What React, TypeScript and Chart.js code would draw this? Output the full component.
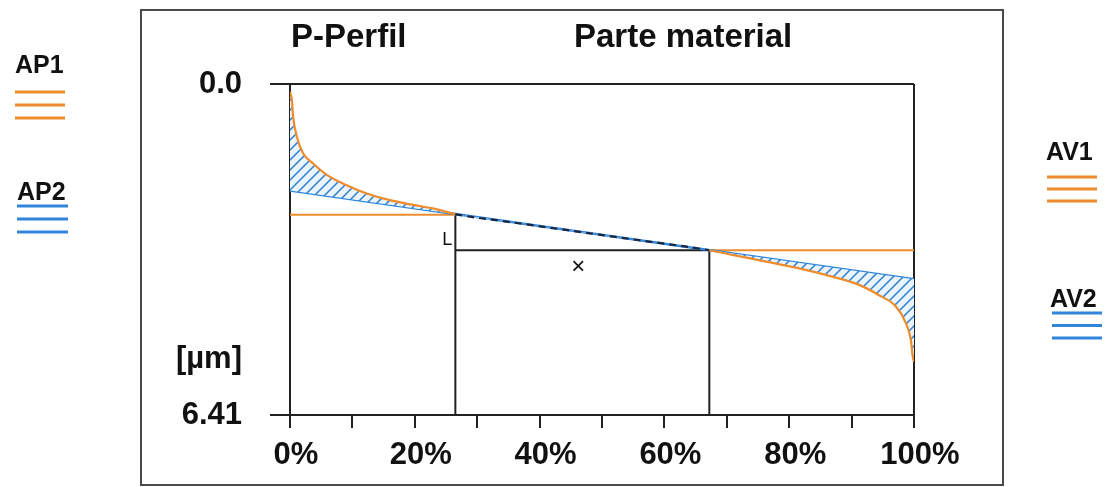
import React, { useEffect, useRef } from 'react';
import { Chart, registerables } from 'chart.js';

Chart.register(...registerables);

// ---- data ----
const materialPct = [0, 0.3, 0.5, 1.1, 2.1, 3.7, 5.9, 9.1, 12.3, 16, 19.7, 22.9, 26.5, 35, 45, 55, 67.2, 70.9, 76.3, 81.6, 86.9, 91.2, 94.4, 97.1, 98.7, 99.5, 99.8, 100];
const profileDepth = [0.15, 0.31, 0.63, 1.02, 1.34, 1.54, 1.76, 1.96, 2.12, 2.25, 2.34, 2.41, 2.52, 2.67, 2.84, 3.01, 3.22, 3.31, 3.44, 3.57, 3.73, 3.89, 4.09, 4.31, 4.63, 4.96, 5.28, 5.38];
const lineX = [0, 100];
const lineY = [2.064, 3.78];
const mr1 = 26.5;
const mr2 = 67.2;
const level1 = 2.53;
const level2 = 3.22;
const depthMax = 6.41;
const unitTick = 5.34;
const yTickLabels = ['0.0', '[µm]', '6.41'];
const xTickLabels = ['0%', '20%', '40%', '60%', '80%', '100%'];
const titles = ['P-Perfil', 'Parte material'];
const legendLeft = ['AP1', 'AP2'];
const legendRight = ['AV1', 'AV2'];
const markL = { x: 25.2, y: 3.02, text: 'L' };
const markX = { x: 46.2, y: 3.56, text: '×' };

const ORANGE = '#ef8c2c';
const BLUE = '#2f86dc';
const DARK = '#222222';
const FONT = "'Liberation Sans', Arial, sans-serif";
const TRANSPARENT = 'rgba(0,0,0,0)';

function makeHatch(): CanvasPattern | string {
  const s = 10;
  const c = document.createElement('canvas');
  c.width = s;
  c.height = s;
  const g = c.getContext('2d');
  if (!g) return '#d8e9f8';
  g.fillStyle = '#eaf4fd';
  g.fillRect(0, 0, s, s);
  g.strokeStyle = '#2f7fd0';
  g.lineWidth = 1.5;
  g.beginPath();
  g.moveTo(0, s);
  g.lineTo(s, 0);
  g.moveTo(-2, 2);
  g.lineTo(2, -2);
  g.moveTo(s - 2, s + 2);
  g.lineTo(s + 2, s - 2);
  g.stroke();
  return g.createPattern(c, 'repeat') || '#d8e9f8';
}

const overlayPlugin = {
  id: 'overlay',
  beforeDraw(chart: any) {
    const ctx = chart.ctx;
    ctx.save();
    ctx.fillStyle = '#ffffff';
    ctx.fillRect(0, 0, chart.width, chart.height);
    ctx.restore();
  },
  afterDraw(chart: any) {
    const ctx = chart.ctx;
    const xs = chart.scales.x;
    const ys = chart.scales.y;
    ctx.save();
    // outer frame
    ctx.strokeStyle = '#4a4a4a';
    ctx.lineWidth = 2;
    ctx.strokeRect(141, 10, 862, 475);

    // titles
    ctx.fillStyle = '#111';
    ctx.font = `bold 33px ${FONT}`;
    ctx.textAlign = 'left';
    ctx.textBaseline = 'alphabetic';
    ctx.fillText(titles[0], 291, 47);
    ctx.fillText(titles[1], 574, 47);

    // legends
    const drawLegend = (text: string, tx: number, ty: number, color: string, lx: number, ly: number, w: number, gap: number) => {
      ctx.fillStyle = '#111';
      ctx.font = `bold 25px ${FONT}`;
      ctx.textAlign = 'left';
      ctx.textBaseline = 'alphabetic';
      ctx.fillText(text, tx, ty);
      ctx.strokeStyle = color;
      ctx.lineWidth = 3;
      for (let i = 0; i < 3; i++) {
        ctx.beginPath();
        ctx.moveTo(lx, ly + i * gap);
        ctx.lineTo(lx + w, ly + i * gap);
        ctx.stroke();
      }
    };
    drawLegend(legendLeft[0], 15, 73, ORANGE, 15, 92, 50, 13);
    drawLegend(legendLeft[1], 17, 200, BLUE, 17, 206, 51, 13);
    drawLegend(legendRight[0], 1046, 160, ORANGE, 1047, 177, 50, 12);
    drawLegend(legendRight[1], 1050, 307, BLUE, 1052, 313, 50, 12.5);

    // annotations
    ctx.fillStyle = '#111';
    ctx.font = `18px ${FONT}`;
    ctx.textAlign = 'center';
    ctx.textBaseline = 'middle';
    ctx.fillText(markL.text, xs.getPixelForValue(markL.x), ys.getPixelForValue(markL.y));
    ctx.font = `24px ${FONT}`;
    ctx.fillText(markX.text, xs.getPixelForValue(markX.x), ys.getPixelForValue(markX.y));
    ctx.restore();
  },
};

export default function App() {
  const ref = useRef<HTMLCanvasElement | null>(null);

  useEffect(() => {
    document.body.style.margin = '0';
    const canvas = ref.current;
    if (!canvas) return;
    const hatch = makeHatch();
    const tickFont = { family: FONT, size: 31, weight: 'bold' as const };
    const inMiddle = (c: any) => c.p0.parsed.x >= mr1 - 0.01 && c.p1.parsed.x <= mr2 + 0.01;

    const chart = new Chart(canvas, {
      type: 'line',
      data: {
        datasets: [
          {
            label: 'Abbott',
            data: materialPct.map((x, i) => ({ x, y: profileDepth[i] })),
            borderColor: ORANGE,
            borderWidth: 2.2,
            pointRadius: 0,
            cubicInterpolationMode: 'monotone',
            fill: { target: 1, above: hatch as any, below: hatch as any },
            segment: {
              borderColor: (c: any) => (inMiddle(c) ? '#1b2740' : undefined),
              borderDash: (c: any) => (inMiddle(c) ? [7, 5] : undefined),
            },
          } as any,
          {
            label: 'Line',
            data: lineX.map((x, i) => ({ x, y: lineY[i] })),
            borderColor: BLUE,
            borderWidth: 2.5,
            pointRadius: 0,
            fill: false,
          },
          {
            label: 'Level1',
            data: [{ x: 0, y: level1 }, { x: mr1, y: level1 }],
            borderColor: ORANGE,
            borderWidth: 2,
            pointRadius: 0,
            fill: false,
          },
          {
            label: 'Level2',
            data: [{ x: mr2, y: level2 }, { x: 100, y: level2 }],
            borderColor: ORANGE,
            borderWidth: 2,
            pointRadius: 0,
            fill: false,
          },
          {
            label: 'Mr1',
            data: [{ x: mr1, y: level1 }, { x: mr1, y: depthMax }],
            borderColor: DARK,
            borderWidth: 2,
            pointRadius: 0,
            fill: false,
          },
          {
            label: 'Mr2',
            data: [{ x: mr1, y: level2 }, { x: mr2, y: level2 }, { x: mr2, y: depthMax }],
            borderColor: DARK,
            borderWidth: 2,
            pointRadius: 0,
            fill: false,
          },
        ],
      },
      options: {
        animation: false,
        responsive: false,
        maintainAspectRatio: false,
        devicePixelRatio: 1,
        layout: { padding: { left: 140, right: 192, top: 84, bottom: 2 } },
        plugins: { legend: { display: false }, tooltip: { enabled: false }, title: { display: false } },
        scales: {
          x: {
            type: 'linear',
            min: 0,
            max: 100,
            afterFit: (s: any) => {
              s.height = 70;
            },
            ticks: {
              stepSize: 10,
              autoSkip: false,
              maxRotation: 0,
              padding: 9,
              labelOffset: 6,
              color: '#111',
              font: tickFont,
              callback: (v: any) => (Number(v) % 20 === 0 ? xTickLabels[Number(v) / 20] : ''),
            },
            grid: {
              color: (c: any) => (c.tick && c.tick.value === 100 ? DARK : TRANSPARENT),
              tickColor: DARK,
              lineWidth: 2,
              tickLength: 13,
              drawTicks: true,
            },
            border: { display: true, color: DARK, width: 2 },
          },
          y: {
            type: 'linear',
            reverse: true,
            min: 0,
            max: depthMax,
            afterFit: (s: any) => {
              s.width = 150;
            },
            afterBuildTicks: (s: any) => {
              s.ticks = [{ value: 0 }, { value: unitTick }, { value: depthMax }];
            },
            ticks: {
              padding: 28,
              color: '#111',
              font: tickFont,
              callback: (v: any) => (Number(v) === 0 ? yTickLabels[0] : Number(v) === unitTick ? yTickLabels[1] : yTickLabels[2]),
            },
            grid: {
              color: (c: any) => (c.tick && c.tick.value === 0 ? DARK : TRANSPARENT),
              tickColor: (c: any) => (c.tick && c.tick.value === unitTick ? TRANSPARENT : DARK),
              lineWidth: 2,
              tickLength: 20,
              drawTicks: true,
            },
            border: { display: true, color: DARK, width: 2 },
          },
        },
      } as any,
      plugins: [overlayPlugin],
    });
    return () => chart.destroy();
  }, []);

  return (
    <div style={{ width: 1106, height: 487 }}>
      <canvas ref={ref} width={1106} height={487} style={{ display: 'block' }} />
    </div>
  );
}
